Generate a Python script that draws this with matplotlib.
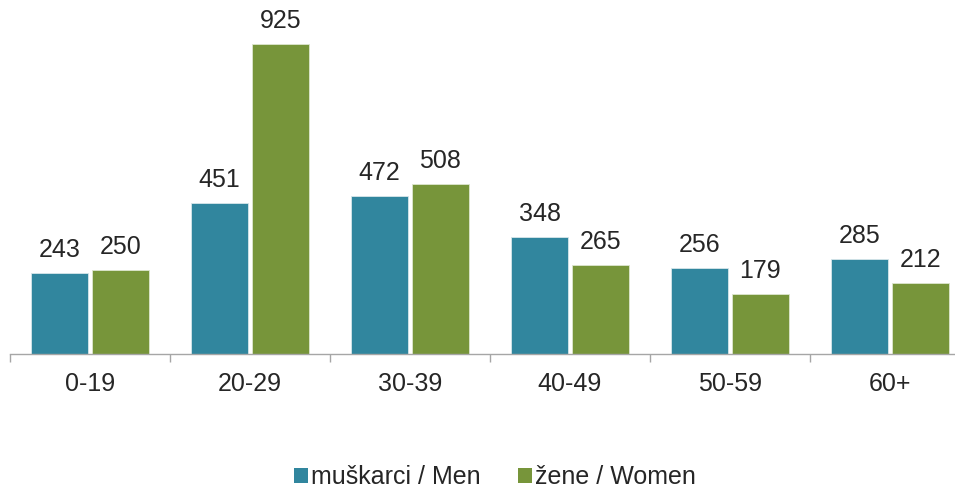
import matplotlib
matplotlib.use("Agg")
import matplotlib.pyplot as plt
import numpy as np
from matplotlib.patches import Patch

categories = ["0-19", "20-29", "30-39", "40-49", "50-59", "60+"]
men = [243, 451, 472, 348, 256, 285]
women = [250, 925, 508, 265, 179, 212]
series_names = ["muškarci / Men", "žene / Women"]

men_color = "#31869E"
women_color = "#77953A"
text_color = "#262626"

plt.rcParams["font.family"] = ["Liberation Sans", "DejaVu Sans"]

fig = plt.figure(figsize=(9.55, 4.91), dpi=100)
ax = fig.add_axes([10 / 955, 137 / 491, 945 / 955, 335 / 491])

x = np.arange(len(categories))
w = 0.356
off = 0.19
b1 = ax.bar(x - off, men, w, color=men_color, edgecolor="#d8e6ea", linewidth=0.6)
b2 = ax.bar(x + off, women, w, color=women_color, edgecolor="#dde6cf", linewidth=0.6)

for bars, vals in ((b1, men), (b2, women)):
    for rect, v in zip(bars, vals):
        ax.annotate(str(v), (rect.get_x() + rect.get_width() / 2, v),
                    xytext=(0, 11.5), textcoords="offset points",
                    ha="center", va="baseline", fontsize=18, color=text_color)

ax.set_xlim(-0.5, 5.5 - 15 / 160)
ax.set_ylim(0, 1000)

for s in ("top", "right", "left"):
    ax.spines[s].set_visible(False)
ax.spines["bottom"].set_color("#a6a6a6")
ax.spines["bottom"].set_linewidth(1.0)
ax.set_yticks([])

# boundary ticks between groups
ax.set_xticks(np.arange(-0.5, 5.5, 1.0))
ax.set_xticklabels([])
ax.tick_params(axis="x", which="major", length=6, color="#a6a6a6", width=1.0, direction="out")
ax.set_xticks(x, minor=True)
ax.set_xticklabels(categories, minor=True)
ax.tick_params(axis="x", which="minor", length=0, pad=13, labelsize=18, labelcolor=text_color)

handles = [Patch(facecolor=men_color), Patch(facecolor=women_color)]
fig.legend(handles, series_names, loc="center", bbox_to_anchor=(495 / 955, 14 / 491),
           ncol=2, frameon=False, fontsize=18, handlelength=0.55, handleheight=0.55,
           handletextpad=0.12, columnspacing=1.5, labelcolor=text_color,
           borderpad=0, borderaxespad=0)

fig.savefig("out.png", dpi=100)
